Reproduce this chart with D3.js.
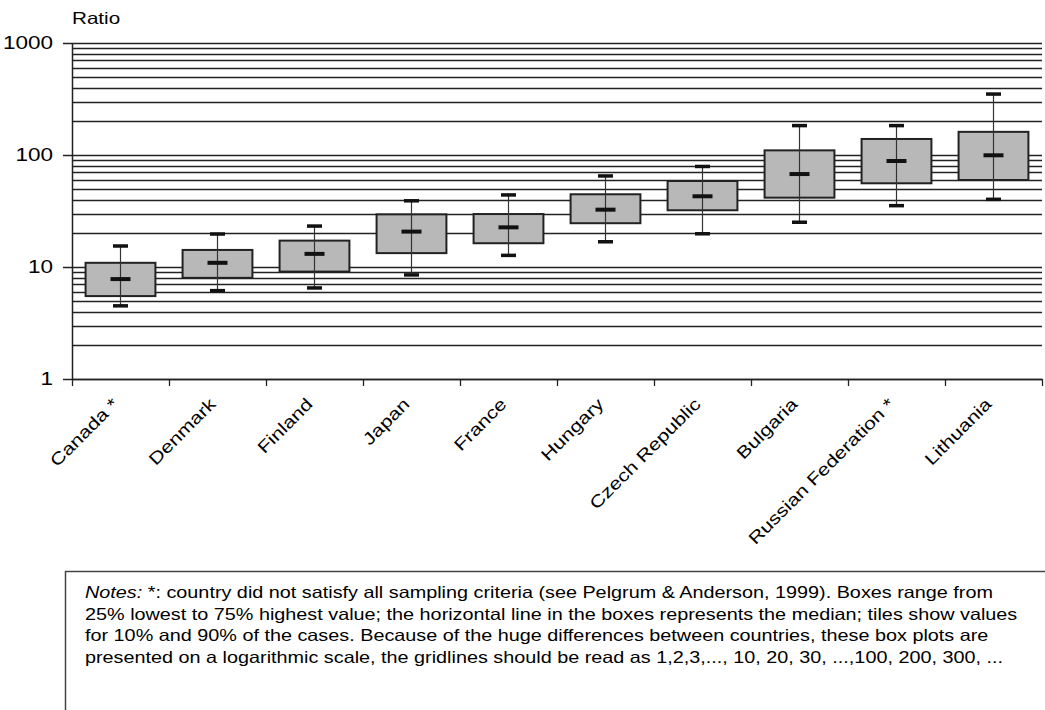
<!DOCTYPE html>
<html>
<head>
<meta charset="utf-8">
<script src="https://cdn.jsdelivr.net/npm/d3@7"></script>
<style>
  body { margin: 0; background: #fff; }
  text { font-family: "Liberation Sans", Arial, sans-serif; fill: #000; }
</style>
</head>
<body>
<div id="chart"></div>
<script>
// values (log scale)
var countries = ["Canada *", "Denmark", "Finland", "Japan", "France", "Hungary",
  "Czech Republic", "Bulgaria", "Russian Federation *", "Lithuania"];
var p10 = [4.5, 6.15, 6.5, 8.5, 12.7, 16.8, 19.8, 25.1, 35.3, 40.2];
var q1 = [5.5, 8.0, 9.1, 13.3, 16.3, 24.6, 32.1, 41.6, 55.9, 59.8];
var median = [7.8, 10.9, 13.1, 20.7, 22.6, 32.5, 42.8, 67.6, 88.4, 99.4];
var q3 = [10.9, 14.2, 17.2, 29.5, 29.7, 44.6, 58.6, 110, 139, 161];
var p90 = [15.4, 19.7, 23.2, 39, 44, 65, 79, 183, 183, 350];
var yTicks = [1, 10, 100, 1000];
var notes = [
  "*: country did not satisfy all sampling criteria (see Pelgrum & Anderson, 1999). Boxes range from",
  "25% lowest to 75% highest value; the horizontal line in the boxes represents the median; tiles show values",
  "for 10% and 90% of the cases. Because of the huge differences between countries, these box plots are",
  "presented on a logarithmic scale, the gridlines should be read as 1,2,3,..., 10, 20, 30, ...,100, 200, 300, ..."
];

var W = 1045, H = 710;
var plotLeft = 72, plotRight = 1042, plotTop = 43, plotBottom = 379;
var stretchK = 1.25; // picture is wider than plain Arial

var data = countries.map(function (c, i) {
  return { name: c, p10: p10[i], q1: q1[i], med: median[i], q3: q3[i], p90: p90[i] };
});

var svg = d3.select("#chart").append("svg")
  .attr("width", W)
  .attr("height", H);

var y = d3.scaleLog().domain([1, 1000]).range([plotBottom, plotTop]);
var x = d3.scaleBand().domain(countries).range([plotLeft, plotRight]);
var xEdge = d3.scaleLinear().domain([0, countries.length]).range([plotLeft, plotRight]);

function stretch(sel, k) {
  sel.each(function () {
    var n = this.getComputedTextLength();
    d3.select(this).attr("textLength", n * k).attr("lengthAdjust", "spacingAndGlyphs");
  });
}

// gridlines 1,2,...,9,10,20,...,1000
svg.append("g")
  .selectAll("line")
  .data(y.ticks())
  .join("line")
  .attr("x1", plotLeft)
  .attr("x2", plotRight)
  .attr("y1", function (d) { return Math.round(y(d)) + 0.5; })
  .attr("y2", function (d) { return Math.round(y(d)) + 0.5; })
  .attr("stroke", "#222")
  .attr("stroke-width", 1.5);

// y axis
var yAxis = svg.append("g")
  .attr("transform", "translate(" + plotLeft + ",0)")
  .call(d3.axisLeft(y).tickValues(yTicks).tickFormat(d3.format("d")).tickSize(9).tickPadding(10).tickSizeOuter(0));
yAxis.select(".domain").attr("stroke", "#222").attr("stroke-width", 1.5);
yAxis.selectAll(".tick line").attr("stroke", "#222").attr("stroke-width", 1.5);
yAxis.selectAll("text")
  .attr("font-size", 18)
  .attr("fill", "#000")
  .call(stretch, stretchK);

// x axis with ticks on the category edges
var xAxis = svg.append("g")
  .attr("transform", "translate(0," + plotBottom + ")")
  .call(d3.axisBottom(xEdge).ticks(countries.length).tickFormat("").tickSize(7).tickSizeOuter(0));
xAxis.select(".domain").attr("stroke", "#222").attr("stroke-width", 1.5);
xAxis.selectAll(".tick line").attr("stroke", "#222").attr("stroke-width", 1.3);

svg.append("g")
  .selectAll("text")
  .data(countries)
  .join("text")
  .attr("transform", function (d) {
    return "translate(" + (x(d) + x.bandwidth() / 2 - 5) + "," + (plotBottom + 22) + ") rotate(-45)";
  })
  .attr("text-anchor", "end")
  .attr("dy", "0.35em")
  .attr("font-size", 17)
  .text(function (d) { return d; })
  .call(stretch, stretchK);

// boxes
var boxW = x.bandwidth() * 0.72;
var g = svg.append("g")
  .selectAll("g")
  .data(data)
  .join("g")
  .attr("transform", function (d) { return "translate(" + (x(d.name) + x.bandwidth() / 2) + ",0)"; });

g.append("rect")
  .attr("x", -boxW / 2)
  .attr("width", boxW)
  .attr("y", function (d) { return y(d.q3); })
  .attr("height", function (d) { return y(d.q1) - y(d.q3); })
  .attr("fill", "#b8b8b8")
  .attr("stroke", "#222")
  .attr("stroke-width", 2);

g.append("line")
  .attr("y1", function (d) { return y(d.p10); })
  .attr("y2", function (d) { return y(d.p90); })
  .attr("stroke", "#333")
  .attr("stroke-width", 1.2);

// caps at 10% and 90%
g.selectAll(".cap")
  .data(function (d) { return [d.p10, d.p90]; })
  .join("rect")
  .attr("class", "cap")
  .attr("x", -7.5)
  .attr("width", 15)
  .attr("y", function (v) { return y(v) - 1.75; })
  .attr("height", 3.5)
  .attr("fill", "#111");

g.append("rect")
  .attr("x", -10)
  .attr("width", 20)
  .attr("y", function (d) { return y(d.med) - 2; })
  .attr("height", 4)
  .attr("fill", "#111");

// axis title
svg.append("text")
  .attr("x", 72)
  .attr("y", 24)
  .attr("font-size", 16.5)
  .text("Ratio")
  .call(stretch, stretchK);

// notes box
svg.append("rect")
  .attr("x", 65.5)
  .attr("y", 571.5)
  .attr("width", 1100)
  .attr("height", 300)
  .attr("fill", "none")
  .attr("stroke", "#444")
  .attr("stroke-width", 1.5);

var noteText = svg.append("g")
  .selectAll("text")
  .data(notes)
  .join("text")
  .attr("x", 85)
  .attr("y", function (d, i) { return 598 + i * 21.7; })
  .attr("font-size", 16.5);

noteText.filter(function (d, i) { return i === 0; })
  .append("tspan")
  .attr("font-style", "italic")
  .text("Notes: ");
noteText.append("tspan").text(function (d) { return d; });
noteText.call(stretch, 1.2);
</script>
</body>
</html>
